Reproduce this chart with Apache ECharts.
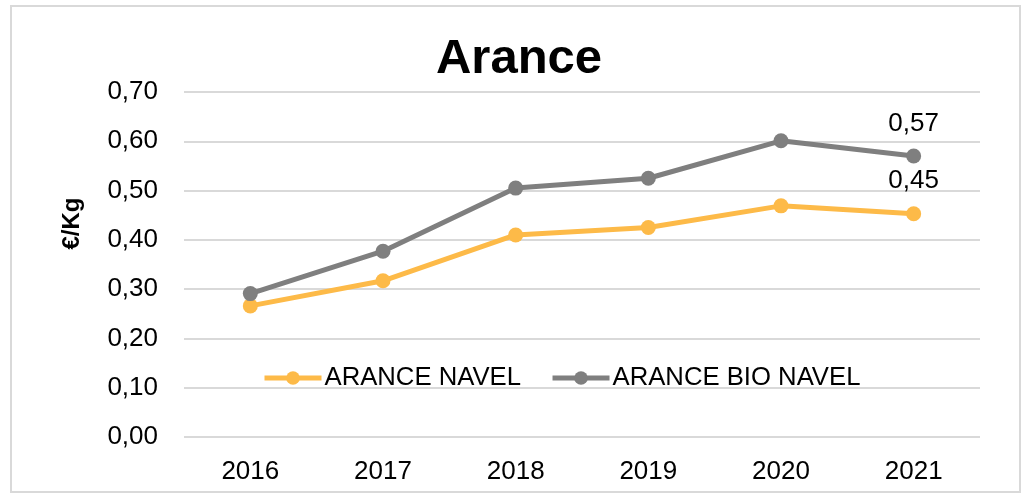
<!DOCTYPE html>
<html>
<head>
    <meta charset="utf-8">
    <title>Arance</title>
    <script src="https://cdn.jsdelivr.net/npm/echarts@6/dist/echarts.min.js"></script>
    <style>
        html, body { margin: 0; padding: 0; background: #fff; }
        #frame { position: absolute; left: 10px; top: 5px; width: 1007px; height: 484px; border: 2px solid #d9d9d9; }
        #chart { width: 1024px; height: 498px; position: absolute; left: 0; top: 0; }
    </style>
</head>
<body>
<div id="frame"></div>
<div id="chart"></div>
<script>
    var years = ['2016', '2017', '2018', '2019', '2020', '2021'];
    var navel = [0.266, 0.317, 0.410, 0.425, 0.469, 0.453];
    var bioNavel = [0.291, 0.377, 0.505, 0.525, 0.601, 0.570];
    var seriesNames = ['ARANCE NAVEL', 'ARANCE BIO NAVEL'];

    var chart = echarts.init(document.getElementById('chart'));
    var font = '"Liberation Sans", Arial, sans-serif';

    function comma(v, d) {
        return v.toFixed(d).replace('.', ',');
    }

    function lastLabel() {
        // only the 2021 point carries a label
        return {
            show: true,
            position: 'top',
            distance: 12,
            fontFamily: font,
            fontSize: 26,
            color: '#000',
            formatter: function (p) {
                return p.dataIndex === years.length - 1 ? comma(p.value, 2) : '';
            }
        };
    }

    var option = {
        animation: false,
        title: {
            text: 'Arance',
            left: 514,
            textAlign: 'center',
            top: 30,
            textStyle: { fontFamily: font, fontSize: 49, fontWeight: 'bold', color: '#000' }
        },
        legend: {
            data: seriesNames,
            left: 262,
            top: 365,
            padding: 0,
            itemWidth: 57,
            itemHeight: 17,
            itemGap: 29,
            lineStyle: { width: 5 },
            textStyle: { fontFamily: font, fontSize: 25.7, color: '#000', padding: [0, 0, 0, -2] }
        },
        grid: { left: 184, right: 44, top: 92, bottom: 61, containLabel: false },
        xAxis: {
            type: 'category',
            data: years,
            axisLine: { show: false },
            axisTick: { show: false },
            axisLabel: { fontFamily: font, fontSize: 26, color: '#000', margin: 22 }
        },
        yAxis: {
            type: 'value',
            min: 0,
            max: 0.7,
            interval: 0.1,
            name: '€/Kg',
            nameLocation: 'middle',
            nameGap: 100,
            nameTextStyle: { fontFamily: font, fontSize: 24, fontWeight: 'bold', color: '#000', padding: [0, 0, 0, 82] },
            axisLabel: {
                fontFamily: font, fontSize: 26, color: '#000', margin: 26,
                formatter: function (v) { return comma(v, 2); }
            },
            splitLine: { lineStyle: { color: '#d9d9d9', width: 2 } }
        },
        series: [
            {
                name: seriesNames[0],
                type: 'line',
                data: navel,
                color: '#FDBA48',
                symbol: 'circle',
                symbolSize: 15,
                lineStyle: { width: 5 },
                label: lastLabel()
            },
            {
                name: seriesNames[1],
                type: 'line',
                data: bioNavel,
                color: '#7F7F7F',
                symbol: 'circle',
                symbolSize: 15,
                lineStyle: { width: 5 },
                label: lastLabel()
            }
        ]
    };

    chart.setOption(option);

    window.onresize = function () {
        chart.resize();
    };
</script>
</body>
</html>
